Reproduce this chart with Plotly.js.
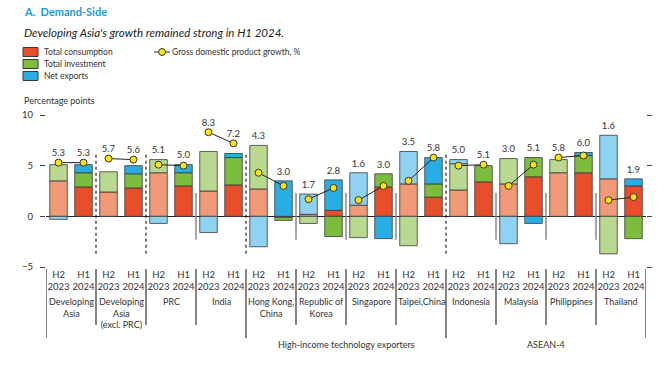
<!DOCTYPE html>
<html><head><meta charset="utf-8">
<script src="https://cdn.plot.ly/plotly-3.0.1.min.js"></script>
<style>html,body{margin:0;padding:0;background:#fff}#chart{width:669px;height:365px}</style>
</head><body><div id="chart"></div>
<script>
// ---- data ----
const countries = ["Developing<br>Asia","Developing<br>Asia<br>(excl. PRC)","PRC","India","Hong Kong,<br>China","Republic of<br>Korea","Singapore","Taipei,China","Indonesia","Malaysia","Philippines","Thailand"];
const periods = ["H2<br>2023","H1<br>2024"];
// interleaved per economy: H2 2023, H1 2024 (percentage points)
const consumption = [3.5,2.9, 2.4,2.8, 4.3,3.0, 2.5,3.1, 2.7,-0.1, 0.2,0.6, 1.1,2.9, 3.2,1.9, 2.6,3.4, 3.2,3.9, 4.3,4.3, 3.7,3.0];
const investment  = [1.6,1.4, 2.0,1.4, 1.3,1.3, 3.9,2.7, 4.3,-0.3, -0.7,-2.0, -2.1,1.3, -2.9,1.3, 2.6,1.6, 2.5,1.9, 1.3,1.7, -3.7,-2.2];
const netExports  = [-0.3,0.8, 0.0,0.8, -0.7,0.8, -1.6,0.4, -3.0,3.5, 2.0,3.0, 3.2,-2.2, 3.2,2.6, 0.4,0.0, -2.7,-0.7, 0.0,0.3, 4.3,0.7];
const gdpGrowth   = [5.3,5.3, 5.7,5.6, 5.1,5.0, 8.3,7.2, 4.3,3.0, 1.7,2.8, 1.6,3.0, 3.5,5.8, 5.0,5.1, 3.0,5.1, 5.8,6.0, 1.6,1.9];
const seriesNames = ["Total consumption","Total investment","Net exports","Gross domestic product growth, %"];
const groupNames = ["High-income technology exporters","ASEAN-4"];
const groupMembers = [[4,7],[8,11]]; // first/last economy index
const dottedAfter = [0,1,3,7]; // economy index after which a dotted divider is drawn

// ---- styling ----
const colH1 = ["#E84E2A","#7CBE3C","#29AEE4"];
const colH2 = ["#F29A77","#B8D98F","#90D2F1"];
const FONT = "Lato, 'Open Sans', sans-serif";
const L = 46, R = 646, T = 115, B = 267;
const px2x = p => (p - L) / (R - L);
const px2y = p => (B - p) / (B - T);

const idx = consumption.map((_, i) => i);
const h2 = idx.filter(i => i % 2 === 0), h1 = idx.filter(i => i % 2 === 1);
const nz = v => v === 0 ? null : v;
const comps = [consumption, investment, netExports];

const traces = [];
[[h2, colH2], [h1, colH1]].forEach(([sel, cols]) => {
  comps.forEach((vals, k) => {
    traces.push({type:'bar', x: sel, y: sel.map(i => nz(vals[i])), name: seriesNames[k],
      showlegend:false, width:0.7, hoverinfo:'skip',
      marker:{color: cols[k], line:{color:'#3a3a3a', width:0.8}}});
  });
});

// GDP line, broken between economies
const gx = [], gy = [];
countries.forEach((c, j) => { gx.push(2*j, 2*j+1, null); gy.push(gdpGrowth[2*j], gdpGrowth[2*j+1], null); });
traces.push({type:'scatter', mode:'lines+markers', x: gx, y: gy, connectgaps:false, showlegend:false,
  name: seriesNames[3], hoverinfo:'skip',
  line:{color:'#222', width:1}, marker:{color:'#FFE600', size:7, line:{color:'#333', width:1}}});

// value labels above the higher of bar top and dot
const LABEL_GAP = 0.85;
const posTop = i => comps.reduce((s, a) => s + Math.max(a[i], 0), 0);
traces.push({type:'scatter', mode:'text', x: idx, y: idx.map(i => Math.max(posTop(i), gdpGrowth[i]) + LABEL_GAP),
  text: gdpGrowth.map(v => v.toFixed(1)), textposition:'middle center', cliponaxis:false,
  textfont:{size:9.5, color:'#333', family:FONT}, showlegend:false, hoverinfo:'skip'});

const shapes = [];
const annotations = [];
// in-plot dividers between economies
for (let j = 0; j < countries.length - 1; j++) {
  const xb = 2*j + 1.5;
  if (dottedAfter.includes(j)) {
    shapes.push({type:'line', xref:'x', yref:'y', x0:xb, x1:xb, y0:-3.7, y1:6.2, line:{color:'#222', width:1.2, dash:'dot'}});
  } else {
    shapes.push({type:'line', xref:'x', yref:'y', x0:xb, x1:xb, y0:-2.3, y1:2.3, line:{color:'#888', width:1.5}});
  }
}
// label-area dividers
const longB = [0, 4, 8, 12];
for (let j = 0; j <= countries.length; j++) {
  const xb = 2*j - 0.5;
  const long = longB.includes(j);
  shapes.push({type:'line', xref:'x', yref:'paper', x0:xb, x1:xb, y0:px2y(269), y1:px2y(long ? 338 : 325), line:{color:'#333', width:1.2}});
}
// economy names
countries.forEach((c, j) => annotations.push({xref:'x', yref:'paper', x: 2*j+0.5, y: px2y(294), yanchor:'top', xanchor:'center',
  text: c, showarrow:false, font:{size:9, color:'#333', family:FONT}}));
groupNames.forEach((g, k) => {
  const [a, b] = groupMembers[k];
  annotations.push({xref:'x', yref:'paper', x: (2*a - 0.5 + 2*b + 1.5)/2, y: px2y(344), yanchor:'middle', xanchor:'center',
    text: g, showarrow:false, font:{size:9, color:'#333', family:FONT}});
});
// titles
annotations.push({xref:'paper', yref:'paper', x: px2x(22), y: px2y(11), xanchor:'left', yanchor:'middle', showarrow:false,
  text:'<b>A.  Demand-Side</b>', font:{size:11, color:'#1B9BD7', family:FONT}});
annotations.push({xref:'paper', yref:'paper', x: px2x(22), y: px2y(32), xanchor:'left', yanchor:'middle', showarrow:false,
  text:"<i>Developing Asia's growth remained strong in H1 2024.</i>", font:{size:11.5, color:'#222', family:FONT}});
annotations.push({xref:'paper', yref:'paper', x: px2x(22), y: px2y(100), xanchor:'left', yanchor:'middle', showarrow:false,
  text:'Percentage points', font:{size:9, color:'#333', family:FONT}});
// legend (manual, compact like the source)
[0,1,2].forEach(k => {
  const yc = 52 + 12*k;
  shapes.push({type:'rect', xref:'paper', yref:'paper', x0:px2x(23), x1:px2x(38), y0:px2y(yc-4.5), y1:px2y(yc+4.5),
    fillcolor: colH1[k], line:{color:'#3a3a3a', width:1}});
  annotations.push({xref:'paper', yref:'paper', x: px2x(42), y: px2y(yc), xanchor:'left', yanchor:'middle', showarrow:false,
    text: seriesNames[k], font:{size:8.5, color:'#333', family:FONT}});
});
shapes.push({type:'line', xref:'paper', yref:'paper', x0:px2x(154), x1:px2x(170), y0:px2y(52), y1:px2y(52), line:{color:'#222', width:1}});
shapes.push({type:'circle', xref:'paper', yref:'paper', x0:px2x(158.5), x1:px2x(165.5), y0:px2y(48.5), y1:px2y(55.5),
  fillcolor:'#FFE600', line:{color:'#333', width:1}});
annotations.push({xref:'paper', yref:'paper', x: px2x(170), y: px2y(52), xanchor:'left', yanchor:'middle', showarrow:false,
  text: seriesNames[3], font:{size:8.5, color:'#333', family:FONT}});

const layout = {
  width:669, height:365, margin:{l:L, r:669-R, t:T, b:365-B}, paper_bgcolor:'#fff', plot_bgcolor:'#fff',
  barmode:'relative', showlegend:false, font:{family:FONT, color:'#333'},
  xaxis:{range:[-0.5, 23.5], tickvals: idx, ticktext: idx.map(i => periods[i % 2]), ticks:'', tickangle:0, showgrid:false,
    zeroline:false, showline:false, tickfont:{size:9.5, color:'#333'}, fixedrange:true},
  yaxis:{range:[-5, 10], tickvals:[-5,0,5,10], ticks:'outside', ticklen:5, tickcolor:'#444', mirror:'ticks',
    showline:false, showgrid:false, zeroline:true, zerolinecolor:'#222', zerolinewidth:1.2,
    tickfont:{size:9.5, color:'#333'}, ticklabelstandoff:5, fixedrange:true},
  shapes, annotations
};
Plotly.newPlot('chart', traces, layout, {staticPlot:true, displayModeBar:false});
</script></body></html>
